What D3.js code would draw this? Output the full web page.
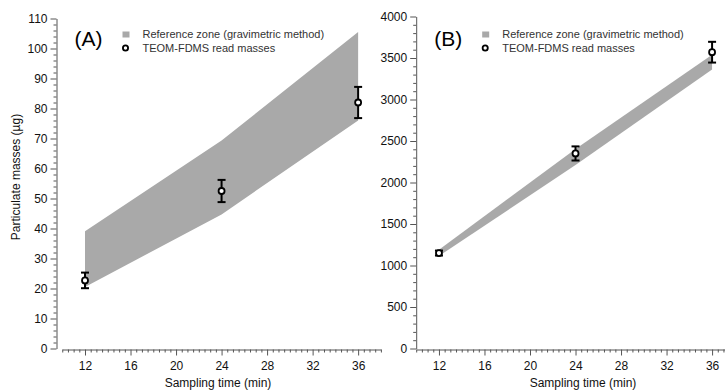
<!DOCTYPE html>
<html><head><meta charset="utf-8">
<script src="https://cdn.jsdelivr.net/npm/d3@7"></script>
<style>body{margin:0;background:#fff}svg{display:block}text{font-family:"Liberation Sans",Arial,sans-serif}</style>
</head><body>
<svg id="c" width="725" height="391"></svg>
<script>
const times = [12, 24, 36];
const xTicks = [12, 16, 20, 24, 28, 32, 36];
// Panel A
const refUpperA = [39.1, 69.3, 105.5];
const refLowerA = [20.5, 44.7, 76];
const teomA = [22.7, 52.5, 82];
const errA = [2.6, 3.7, 5.2];
const yTicksA = [0, 10, 20, 30, 40, 50, 60, 70, 80, 90, 100, 110];
// Panel B
const refUpperB = [1190, 2405, 3540];
const refLowerB = [1115, 2210, 3360];
const teomB = [1150, 2350, 3570];
const errB = [30, 85, 125];
const yTicksB = [0, 500, 1000, 1500, 2000, 2500, 3000, 3500, 4000];

const svg = d3.select("#c");

function panel(o) {
  const g = svg.append("g");
  const x = d3.scaleLinear().domain([10, 38]).range([o.xStart, o.xStart + 28 * 11.38]);
  const y = d3.scaleLinear().domain([0, o.ymax]).range([348.5, o.yTop]);

  // band
  const pts = o.times.map((t, i) => ({t, u: o.up[i], l: o.lo[i]}));
  g.append("path").datum(pts)
    .attr("fill", "#a9a9a9")
    .attr("d", d3.area().x(d => x(d.t)).y0(d => y(d.l)).y1(d => y(d.u)));

  // y axis
  const minorY = d3.range(0, o.ymax + 0.001, o.minorStep).filter(v => !o.yTicks.includes(v));
  g.append("g").attr("transform", `translate(${o.yAxisX},0)`)
    .call(d3.axisLeft(y).tickValues(minorY).tickSize(3).tickSizeOuter(0).tickFormat(""))
    .call(s => s.select(".domain").remove())
    .call(s => s.selectAll("line").attr("stroke", "#555"));
  g.append("g").attr("transform", `translate(${o.yAxisX},0)`)
    .call(d3.axisLeft(y).tickValues(o.yTicks).tickSize(6).tickSizeOuter(0).tickPadding(3).tickFormat(d3.format("d")))
    .call(s => s.select(".domain").attr("stroke", "#555"))
    .call(s => s.selectAll("line").attr("stroke", "#555"))
    .call(s => s.selectAll("text").attr("font-size", 12).attr("fill", "#111")
      .attr("font-family", "Liberation Sans, Arial, sans-serif"));

  // x axis
  const minorX = d3.range(10, 38.001, 0.5).filter(v => !xTicks.includes(v));
  g.append("g").attr("transform", `translate(0,349.5)`)
    .call(d3.axisBottom(x).tickValues(minorX).tickSize(3).tickSizeOuter(0).tickFormat(""))
    .call(s => s.select(".domain").remove())
    .call(s => s.selectAll("line").attr("stroke", "#555"));
  g.append("g").attr("transform", `translate(0,349.5)`)
    .call(d3.axisBottom(x).tickValues(xTicks).tickSize(6).tickSizeOuter(0).tickPadding(6))
    .call(s => s.select(".domain").attr("stroke", "#555"))
    .call(s => s.selectAll("line").attr("stroke", "#555"))
    .call(s => s.selectAll("text").attr("font-size", 12).attr("fill", "#111")
      .attr("font-family", "Liberation Sans, Arial, sans-serif"));

  g.append("text").attr("x", o.xTitleX).attr("y", 387).attr("text-anchor", "middle")
    .attr("font-size", 12).attr("fill", "#111").text("Sampling time (min)");

  // error bars + markers
  const d = o.times.map((t, i) => ({t, v: o.val[i], e: o.err[i]}));
  const eb = g.append("g").attr("stroke", "#000").attr("stroke-width", 2);
  d.forEach(p => {
    eb.append("line").attr("x1", x(p.t)).attr("x2", x(p.t)).attr("y1", y(p.v - p.e)).attr("y2", y(p.v + p.e));
    eb.append("line").attr("x1", x(p.t) - 4).attr("x2", x(p.t) + 4).attr("y1", y(p.v - p.e)).attr("y2", y(p.v - p.e));
    eb.append("line").attr("x1", x(p.t) - 4).attr("x2", x(p.t) + 4).attr("y1", y(p.v + p.e)).attr("y2", y(p.v + p.e));
  });
  g.selectAll("circle.m").data(d).join("circle").attr("class", "m")
    .attr("cx", p => x(p.t)).attr("cy", p => y(p.v)).attr("r", 3)
    .attr("fill", "#fff").attr("stroke", "#000").attr("stroke-width", 1.8);

  // panel label + legend
  const lx = o.yAxisX;
  g.append("text").attr("x", lx + 18).attr("y", 46).attr("font-size", 21).attr("fill", "#000").text(o.label);
  g.append("rect").attr("x", lx + 66).attr("y", 31.5).attr("width", 7).attr("height", 6).attr("fill", "#a9a9a9");
  g.append("text").attr("x", lx + 86).attr("y", 37.5).attr("font-size", 11).attr("fill", "#333")
    .text("Reference zone (gravimetric method)");
  g.append("circle").attr("cx", lx + 69).attr("cy", 48).attr("r", 2.6)
    .attr("fill", "#fff").attr("stroke", "#000").attr("stroke-width", 1.8);
  g.append("text").attr("x", lx + 86).attr("y", 51.5).attr("font-size", 11).attr("fill", "#333")
    .text("TEOM-FDMS read masses");
}

panel({label: "(A)", yAxisX: 56.5, xStart: 62.25, yTop: 18.5, ymax: 110, minorStep: 2,
  yTicks: yTicksA, times, up: refUpperA, lo: refLowerA, val: teomA, err: errA, xTitleX: 218});
panel({label: "(B)", yAxisX: 416.2, xStart: 416.2, yTop: 16.5, ymax: 4000, minorStep: 100,
  yTicks: yTicksB, times, up: refUpperB, lo: refLowerB, val: teomB, err: errB, xTitleX: 583});

svg.append("text").attr("transform", "translate(20,177) rotate(-90)").attr("text-anchor", "middle")
  .attr("font-size", 12).attr("fill", "#111").text("Particulate masses (µg)");
</script>
</body></html>
